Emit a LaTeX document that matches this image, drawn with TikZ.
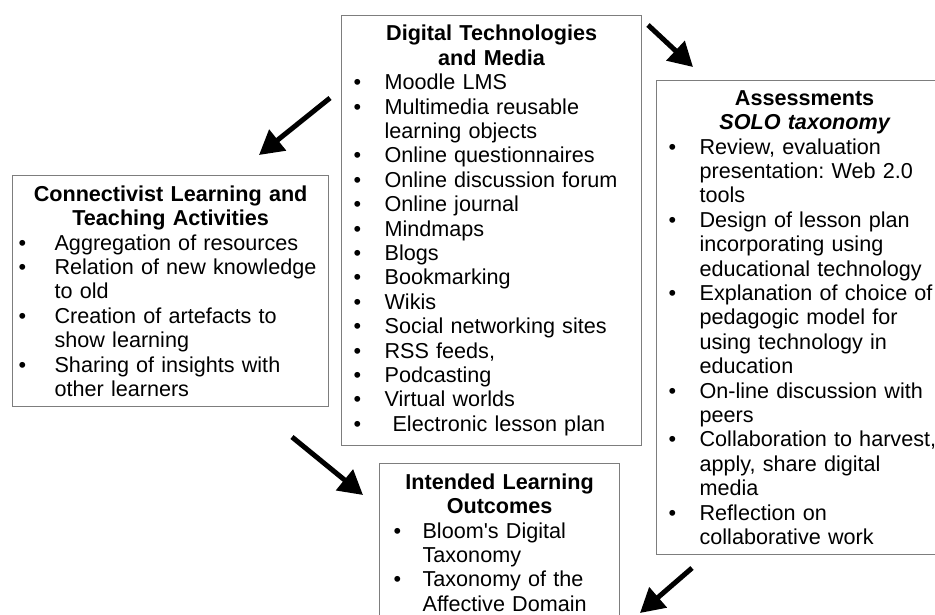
\documentclass[tikz,border=0pt]{standalone}
\usepackage{fontspec}
\setmainfont{Liberation Sans}
\usetikzlibrary{arrows.meta}
\definecolor{framegray}{RGB}{125,125,125}
\newlength{\bulletgap}
\newcommand{\bitem}[1]{\par\noindent\hangindent=\bulletgap\hangafter=1\makebox[\bulletgap][l]{\textbullet}#1}
\newcommand{\boxtitle}[1]{{\centering\bfseries #1\par}}
\frenchspacing

\begin{document}
\begin{tikzpicture}[x=1pt, y=-1pt,
    panel/.style={draw=framegray, line width=1.2pt, anchor=north west, inner ysep=3pt,
        font=\fontsize{21.6}{24.4}\selectfont,
        execute at begin node={\setlength{\parskip}{0pt}\raggedright\setlength{\bulletgap}{#1}}},
    bigarrow/.style={line width=5pt, -{Triangle[length=24pt, width=26pt]}}
]
    \useasboundingbox (0,0) rectangle (935,614);

    % Boxes
    \node[panel=31pt, inner xsep=12pt, text width=276pt, minimum width=300pt, minimum height=430pt] (digital) at (341,15) {%
        \boxtitle{Digital Technologies\\and Media}
        \bitem{Moodle LMS}
        \bitem{Multimedia reusable\newline learning objects}
        \bitem{Online questionnaires}
        \bitem{Online discussion forum}
        \bitem{Online journal}
        \bitem{Mindmaps}
        \bitem{Blogs}
        \bitem{Bookmarking}
        \bitem{Wikis}
        \bitem{Social networking sites}
        \bitem{RSS feeds,}
        \bitem{Podcasting}
        \bitem{Virtual worlds}
        \bitem{\hspace{8pt}Electronic lesson plan}\par};

    \node[panel=36pt, inner xsep=6pt, text width=304pt, minimum width=316pt, minimum height=231pt] (connect) at (12,175) {%
        \boxtitle{Connectivist Learning and\\Teaching Activities}
        \bitem{Aggregation of resources}
        \bitem{Relation of new knowledge\newline to old}
        \bitem{Creation of artefacts to\newline show learning}
        \bitem{Sharing of insights with\newline other learners}\par};

    \node[panel=31pt, inner xsep=12pt, text width=272pt, minimum width=296pt, minimum height=474pt] (assess) at (656,80) {%
        \boxtitle{Assessments\\\itshape SOLO taxonomy}
        \bitem{Review, evaluation\newline presentation: Web 2.0\newline tools}
        \bitem{Design of lesson plan\newline incorporating using\newline educational technology}
        \bitem{Explanation of choice of\newline pedagogic model for\newline using technology in\newline education}
        \bitem{On-line discussion with\newline peers}
        \bitem{Collaboration to harvest,\newline apply, share digital\newline media}
        \bitem{Reflection on\newline collaborative work}\par};

    \node[panel=29pt, inner xsep=14pt, text width=212pt, minimum width=240pt, minimum height=158pt] (outcomes) at (379,463) {%
        \boxtitle{Intended Learning\\Outcomes}
        \bitem{Bloom\textquotesingle s Digital\newline Taxonomy}
        \bitem{Taxonomy of the\newline Affective Domain}\par};

    % Arrows
    \coordinate (tail1) at (330,98);  \coordinate (head1) at (259,155);
    \coordinate (tail2) at (648,25);  \coordinate (head2) at (693,67);
    \coordinate (tail3) at (292,437); \coordinate (head3) at (363,495);
    \coordinate (tail4) at (692,568); \coordinate (head4) at (640,613);
    \draw[bigarrow] (tail1) -- (head1);
    \draw[bigarrow] (tail2) -- (head2);
    \draw[bigarrow] (tail3) -- (head3);
    \draw[bigarrow] (tail4) -- (head4);

\end{tikzpicture}
\end{document}
